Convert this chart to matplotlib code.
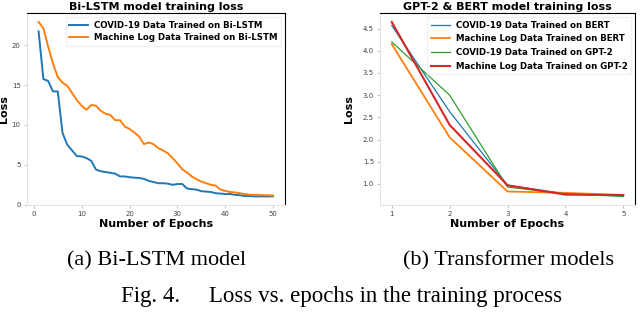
import matplotlib
matplotlib.use('Agg')
from matplotlib import pyplot as plt

# Bi-LSTM training loss, epochs 1..50
lstm_epochs = list(range(1, 51))
lstm_covid = [21.7, 15.75, 15.5, 14.2, 14.2, 9.0, 7.5, 6.8, 6.1, 6.05,
              5.85, 5.5, 4.4, 4.2, 4.1, 4.0, 3.9, 3.55, 3.55, 3.45,
              3.4, 3.35, 3.25, 3.0, 2.85, 2.7, 2.7, 2.65, 2.5, 2.6,
              2.6, 2.05, 1.95, 1.9, 1.7, 1.65, 1.6, 1.45, 1.4, 1.35,
              1.35, 1.25, 1.2, 1.1, 1.1, 1.05, 1.05, 1.05, 1.05, 1.05]
lstm_machine = [22.9, 22.1, 19.8, 17.7, 16.0, 15.3, 14.9, 14.0, 13.1, 12.4,
                11.9, 12.5, 12.4, 11.75, 11.4, 11.25, 10.6, 10.6, 9.8, 9.5,
                9.05, 8.55, 7.6, 7.8, 7.6, 7.1, 6.8, 6.45, 5.85, 5.2,
                4.45, 4.05, 3.55, 3.2, 2.9, 2.7, 2.5, 2.4, 1.9, 1.75,
                1.6, 1.55, 1.45, 1.35, 1.25, 1.25, 1.25, 1.2, 1.2, 1.15]

# Transformer training loss, epochs 1..5
tf_epochs = [1, 2, 3, 4, 5]
bert_covid = [4.57, 2.63, 0.97, 0.78, 0.73]
bert_machine = [4.15, 2.05, 0.83, 0.80, 0.75]
gpt2_covid = [4.20, 3.0, 0.93, 0.78, 0.72]
gpt2_machine = [4.65, 2.33, 0.97, 0.76, 0.75]

light = '#e3e3e3'


def style_axes(ax, ylabelpad):
    ax.spines['left'].set_color(light)
    ax.spines['bottom'].set_color(light)
    ax.spines['top'].set_color('black')
    ax.spines['right'].set_color('black')
    for s in ax.spines.values():
        s.set_linewidth(0.8)
    ax.tick_params(axis='both', labelsize=5, length=2.5, width=0.6,
                   color='#bbbbbb', labelcolor='#444444', pad=2)
    ax.set_xlabel('Number of Epochs', fontsize=8, fontweight='bold', labelpad=1)
    ax.set_ylabel('Loss', fontsize=8, fontweight='bold', labelpad=ylabelpad)


def add_legend(ax, spacing):
    ax.legend(loc='upper right', prop={'size': 6.2, 'weight': 'bold'},
              labelspacing=spacing, borderpad=0.4, handlelength=2.2,
              handletextpad=0.7, borderaxespad=0.45, framealpha=0.8,
              edgecolor='#eeeeee', fancybox=False)


fig = plt.figure(figsize=(6.4, 3.22), dpi=100)

ax1 = fig.add_axes([0.042, 0.363, 0.403, 0.596])
ax1.plot(lstm_epochs, lstm_covid, color='#1f77b4', lw=1.4,
         label='COVID-19 Data Trained on Bi-LSTM')
ax1.plot(lstm_epochs, lstm_machine, color='#ff7f0e', lw=1.4,
         label='Machine Log Data Trained on Bi-LSTM')
ax1.set_yticks([0, 5, 10, 15, 20])
ax1.set_xticks([0, 10, 20, 30, 40, 50])
ax1.set_title('Bi-LSTM model training loss', fontsize=8, fontweight='bold', pad=2)
style_axes(ax1, 2)
add_legend(ax1, 0.45)

ax2 = fig.add_axes([0.594, 0.363, 0.398, 0.596])
ax2.plot(tf_epochs, bert_covid, color='#1f77b4', lw=0.9,
         label='COVID-19 Data Trained on BERT')
ax2.plot(tf_epochs, bert_machine, color='#ff7f0e', lw=1.3,
         label='Machine Log Data Trained on BERT')
ax2.plot(tf_epochs, gpt2_covid, color='#2ca02c', lw=0.9,
         label='COVID-19 Data Trained on GPT-2')
ax2.plot(tf_epochs, gpt2_machine, color='#d62728', lw=1.5,
         label='Machine Log Data Trained on GPT-2')
ax2.set_xticks(tf_epochs)
ax2.set_yticks([1.0, 1.5, 2.0, 2.5, 3.0, 3.5, 4.0, 4.5])
ax2.set_title('GPT-2 & BERT model training loss', fontsize=8, fontweight='bold', pad=2)
style_axes(ax2, 6)
add_legend(ax2, 0.55)

serif = ['Liberation Serif', 'DejaVu Serif']
fig.text(0.244, 0.19, '(a) Bi-LSTM model', ha='center', va='center',
         fontsize=16, family=serif)
fig.text(0.794, 0.19, '(b) Transformer models', ha='center', va='center',
         fontsize=16, family=serif)
fig.text(0.534, 0.08, 'Fig. 4.     Loss vs. epochs in the training process',
         ha='center', va='center', fontsize=16.5, family=serif)

fig.savefig('out.png', dpi=100)
